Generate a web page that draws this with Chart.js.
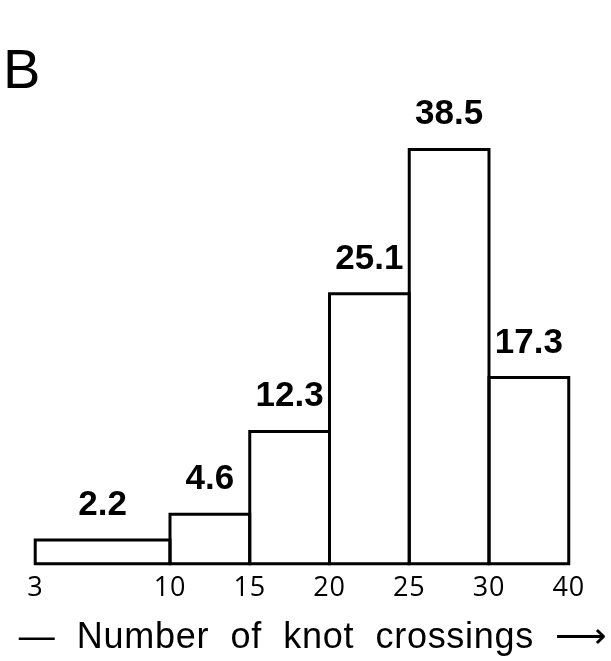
<!DOCTYPE html>
<html>
<head>
<meta charset="utf-8">
<script src="https://cdn.jsdelivr.net/npm/chart.js@4/dist/chart.umd.min.js"></script>
<style>
  html, body { margin: 0; padding: 0; background: #ffffff; }
  #wrap { width: 611px; height: 661px; position: relative; }
</style>
</head>
<body>
<div id="wrap"><canvas id="c"></canvas></div>
<script>
// ---- data ----
const panelLabel = 'B';
const binEdges = [3, 10, 15, 20, 25, 30, 40];
const edgeLabels = ['3', '10', '15', '20', '25', '30', '40'];
const percentages = [2.2, 4.6, 12.3, 25.1, 38.5, 17.3];
const axisTitle = '\u2014  Number  of  knot  crossings  \u27F6';

// ---- layout (display slots: each bin one slot, first bin drawn wider) ----
const FIRST_BIN_SPAN = 1.69;
function edgePos(i) { return i === 0 ? 1 - FIRST_BIN_SPAN : i; }

const datasets = percentages.map((v, i) => {
  const l = edgePos(i), r = edgePos(i + 1);
  return {
    label: binEdges[i] + '-' + binEdges[i + 1],
    data: [{x: l, y: 0}, {x: l, y: v}, {x: r, y: v}, {x: r, y: 0}, {x: l, y: 0}],
    borderColor: '#000000',
    borderWidth: 3,
    pointRadius: 0,
    fill: false,
    tension: 0,
    clip: false,
    borderJoinStyle: 'miter',
    borderCapStyle: 'square'
  };
});

const spacingPlugin = {
  id: 'spacing',
  beforeDraw(chart) { chart.ctx.letterSpacing = '0.7px'; },
  beforeDatasetsDraw(chart) { chart.ctx.letterSpacing = '0px'; }
};

const valueLabels = {
  id: 'valueLabels',
  afterDatasetsDraw(chart) {
    const ctx = chart.ctx, xs = chart.scales.x, ys = chart.scales.y;
    ctx.save();
    ctx.letterSpacing = '0px';
    ctx.font = 'bold 35px "Liberation Sans", Arial, sans-serif';
    ctx.textAlign = 'center';
    ctx.textBaseline = 'alphabetic';
    ctx.fillStyle = '#000000';
    percentages.forEach((v, i) => {
      const xc = xs.getPixelForValue((edgePos(i) + edgePos(i + 1)) / 2);
      const yt = ys.getPixelForValue(v);
      ctx.fillText(v.toFixed(1), xc, yt - 25);
    });
    ctx.restore();
  }
};

new Chart(document.getElementById('c'), {
  type: 'line',
  data: { datasets },
  plugins: [spacingPlugin, valueLabels],
  options: {
    responsive: true,
    maintainAspectRatio: false,
    animation: false,
    layout: { padding: { left: 3, right: 3, top: 0, bottom: 1.6 } },
    plugins: {
      legend: { display: false },
      tooltip: { enabled: false },
      title: {
        display: true,
        text: panelLabel,
        align: 'start',
        color: '#000000',
        font: { family: '"Liberation Sans", Arial, sans-serif', size: 56, weight: 'normal', lineHeight: 1 },
        padding: { top: 45, bottom: 0 }
      }
    },
    scales: {
      x: {
        type: 'linear',
        min: -1.094,
        max: 6.4922,
        grid: { display: false, drawTicks: false },
        border: { display: false },
        afterBuildTicks(scale) {
          scale.ticks = binEdges.map((e, i) => ({ value: edgePos(i) }));
        },
        ticks: {
          autoSkip: false,
          maxRotation: 0,
          padding: 8,
          color: '#000000',
          font: { family: '"Open Sans", "Noto Sans", sans-serif', size: 27, weight: 'normal', lineHeight: 1.2 },
          callback: (val, idx) => edgeLabels[idx]
        },
        title: {
          display: true,
          text: axisTitle,
          align: 'end',
          color: '#000000',
          font: { family: '"Liberation Sans", Arial, sans-serif', size: 36, weight: 'normal', lineHeight: 1.2 },
          padding: { top: 4, bottom: 0 }
        }
      },
      y: {
        display: false,
        min: 0,
        max: 43
      }
    }
  }
});
</script>
</body>
</html>
